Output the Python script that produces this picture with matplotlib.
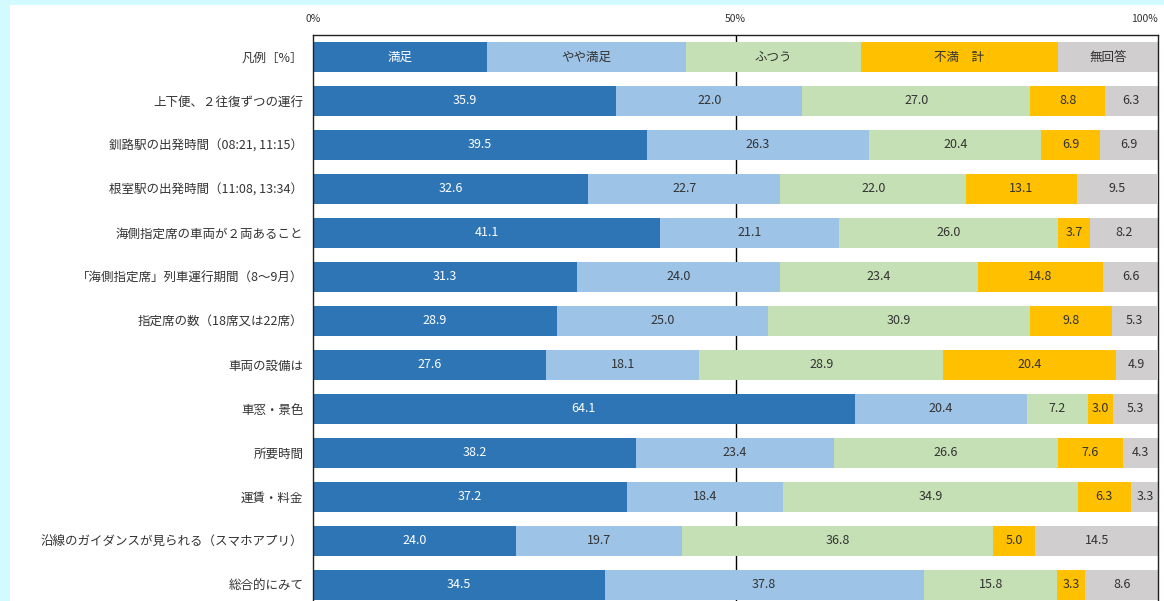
import matplotlib
matplotlib.use("Agg")
import matplotlib.pyplot as plt
from matplotlib.patches import Rectangle

plt.rcParams['font.family'] = ['Noto Sans CJK JP', 'DejaVu Sans']

categories = [
    "上下便、２往復ずつの運行",
    "釧路駅の出発時間（08:21, 11:15）",
    "根室駅の出発時間（11:08, 13:34）",
    "海側指定席の車両が２両あること",
    "「海側指定席」列車運行期間（8～9月）",
    "指定席の数（18席又は22席）",
    "車両の設備は",
    "車窓・景色",
    "所要時間",
    "運賃・料金",
    "沿線のガイダンスが見られる（スマホアプリ）",
    "総合的にみて",
]
series_names = ["満足", "やや満足", "ふつう", "不満　計", "無回答"]
manzoku = [35.9, 39.5, 32.6, 41.1, 31.3, 28.9, 27.6, 64.1, 38.2, 37.2, 24.0, 34.5]
yaya = [22.0, 26.3, 22.7, 21.1, 24.0, 25.0, 18.1, 20.4, 23.4, 18.4, 19.7, 37.8]
futsu = [27.0, 20.4, 22.0, 26.0, 23.4, 30.9, 28.9, 7.2, 26.6, 34.9, 36.8, 15.8]
fuman = [8.8, 6.9, 13.1, 3.7, 14.8, 9.8, 20.4, 3.0, 7.6, 6.3, 5.0, 3.3]
mukaito = [6.3, 6.9, 9.5, 8.2, 6.6, 5.3, 4.9, 5.3, 4.3, 3.3, 14.5, 8.6]
legend_label = "凡例［%］"
legend_widths = [20.6, 23.6, 20.6, 23.4, 11.8]
xtick_vals = [0, 50, 100]
xtick_labels = ["0%", "50%", "100%"]

colors = ["#2E75B6", "#9DC3E6", "#C5E0B4", "#FFC000", "#D0CECE"]
text_colors = ["white", "#333333", "#333333", "#333333", "#333333"]

W, H = 1164, 601
fig = plt.figure(figsize=(W / 100, H / 100), dpi=100)
fig.patch.set_facecolor("white")
# cyan border
fig.patches.append(Rectangle((0, 1 - 5 / H), 1, 5 / H, transform=fig.transFigure,
                             facecolor="#D2FAFF", edgecolor="none", zorder=0))
fig.patches.append(Rectangle((0, 0), 10 / W, 1, transform=fig.transFigure,
                             facecolor="#D2FAFF", edgecolor="none", zorder=0))

left_px, right_px, top_px = 313, 1158, 35
ax = fig.add_axes([left_px / W, 0, (right_px - left_px) / W, (H - top_px) / H])

step = 44.0
ytop = -0.5
ybot = ytop + (H - top_px) / step
bar_h = 30 / step

rows = [legend_label] + categories
data = [manzoku, yaya, futsu, fuman, mukaito]

# legend row
lft = 0
for j, w in enumerate(legend_widths):
    ax.barh(0, w, left=lft, height=bar_h, color=colors[j], edgecolor="none", zorder=2)
    ax.text(lft + w / 2, 0, series_names[j], ha="center", va="center",
            color=text_colors[j], fontsize=9, zorder=3)
    lft += w

for i in range(len(categories)):
    y = i + 1
    lft = 0
    for j in range(5):
        v = data[j][i]
        ax.barh(y, v, left=lft, height=bar_h, color=colors[j], edgecolor="none", zorder=2)
        ax.text(lft + v / 2, y, f"{v:.1f}", ha="center", va="center",
                color=text_colors[j], fontsize=9, zorder=3)
        lft += v

ax.axvline(50, color="black", lw=1.0, zorder=1)

ax.set_xlim(0, 100)
ax.set_ylim(ybot, ytop)
ax.set_yticks(range(len(rows)))
ax.set_yticklabels(rows, fontsize=9, color="#333333")
ax.tick_params(axis="y", length=0, pad=7)
ax.xaxis.tick_top()
ax.set_xticks(xtick_vals)
ax.set_xticklabels(xtick_labels, fontsize=7.5, color="#333333")
ax.tick_params(axis="x", length=0, pad=8)
# keep the last tick label inside the figure
lbls = ax.get_xticklabels()
lbls[-1].set_horizontalalignment("right")
lbls[-1].set_x(100)
for s in ["top", "left", "right"]:
    ax.spines[s].set_color("#222222")
    ax.spines[s].set_linewidth(1.0)
ax.spines["bottom"].set_visible(False)

fig.savefig("out.png", dpi=100)
